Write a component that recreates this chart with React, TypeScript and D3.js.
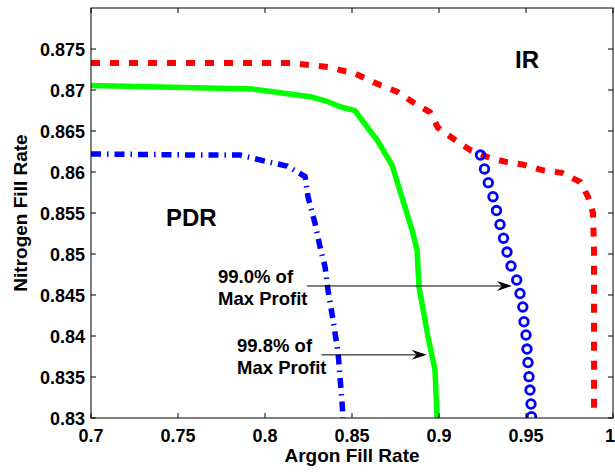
import React from "react";
import * as d3 from "d3";

const xTicks = [0.7, 0.75, 0.8, 0.85, 0.9, 0.95, 1];
const yTicks = [0.83, 0.835, 0.84, 0.845, 0.85, 0.855, 0.86, 0.865, 0.87, 0.875];

// IR curve (red dashed)
const irArgon = [0.7, 0.8144, 0.8362, 0.8517, 0.8661, 0.8759, 0.8851, 0.8948, 0.8994, 0.9092, 0.9178, 0.9293, 0.9391, 0.9483, 0.9598, 0.9707, 0.981, 0.9856, 0.9885, 0.9891, 0.9891];
const irNitrogen = [0.8733, 0.8733, 0.8728, 0.872, 0.8706, 0.8698, 0.8685, 0.8673, 0.8654, 0.8639, 0.8627, 0.8617, 0.8612, 0.8609, 0.8602, 0.8599, 0.8588, 0.857, 0.855, 0.8505, 0.8304];

// 99.8% of max profit (green solid)
const greenArgon = [0.7, 0.7931, 0.8086, 0.8259, 0.8362, 0.8431, 0.8517, 0.8586, 0.8644, 0.873, 0.8845, 0.8874, 0.8885, 0.8937, 0.8977, 0.8989];
const greenNitrogen = [0.87055, 0.87012, 0.86967, 0.86918, 0.86857, 0.86796, 0.86748, 0.86552, 0.8639, 0.86085, 0.85293, 0.85049, 0.84598, 0.83988, 0.83585, 0.83];

// PDR curve (blue dash-dot)
const pdrArgon = [0.7, 0.7626, 0.7856, 0.7989, 0.8126, 0.823, 0.8247, 0.8287, 0.8316, 0.8345, 0.8362, 0.8391, 0.842, 0.8443, 0.8448];
const pdrNitrogen = [0.8622, 0.86207, 0.86207, 0.86138, 0.86073, 0.85945, 0.85699, 0.85378, 0.85089, 0.84845, 0.84561, 0.84195, 0.83793, 0.83183, 0.83];

// 99.0% of max profit (blue circles)
const circArgon = [0.92385, 0.92615, 0.92833, 0.93103, 0.93305, 0.93506, 0.93707, 0.93908, 0.94138, 0.94466, 0.94655, 0.94816, 0.94885, 0.95, 0.95057, 0.95115, 0.95172, 0.9523, 0.95287, 0.95316];
const circNitrogen = [0.86207, 0.86037, 0.8587, 0.85699, 0.8553, 0.8536, 0.85192, 0.85024, 0.84854, 0.84683, 0.84518, 0.84354, 0.84174, 0.84012, 0.83841, 0.83677, 0.83504, 0.83341, 0.83171, 0.83016];

const W = 615, H = 472;
const L = 91, R = 613, T = 8, B = 418;
const FONT = "'Liberation Sans', Arial, Helvetica, sans-serif";

const fmt = (v: number) => String(+v.toFixed(3));

export default function App() {
  const x = d3.scaleLinear().domain([0.7, 1]).range([L, R]);
  const y = d3.scaleLinear().domain([0.83, 0.88]).range([B, T]);
  const line = d3.line<[number, number]>().x(d => x(d[0])).y(d => y(d[1]));
  const zip = (a: number[], b: number[]) => a.map((v, i) => [v, b[i]] as [number, number]);

  const arrow = (x0: number, x1: number, yy: number) => {
    const px0 = x(x0), px1 = x(x1), py = y(yy);
    const head = `M${px1},${py} L${px1 - 15},${py - 5} L${px1 - 10},${py} L${px1 - 15},${py + 5} Z`;
    return (
      <g>
        <line x1={px0} x2={px1 - 8} y1={py} y2={py} stroke="#000" strokeWidth={1} />
        <path d={head} fill="#000" />
      </g>
    );
  };

  return (
    <svg width={W} height={H} style={{ position: "absolute", left: 0, top: 0, background: "#fff" }} fontFamily={FONT}>
      <defs>
        <clipPath id="plot">
          <rect x={L} y={T} width={R - L} height={B - T} />
        </clipPath>
      </defs>
      <rect x={0} y={0} width={W} height={H} fill="#fff" />
      <g clipPath="url(#plot)">
        <path d={line(zip(irArgon, irNitrogen)) || ""} fill="none" stroke="#ff0000" strokeWidth={6} strokeDasharray="9,10" />
        <path d={line(zip(greenArgon, greenNitrogen)) || ""} fill="none" stroke="#00ff00" strokeWidth={5.5} strokeLinejoin="round" />
        <path d={line(zip(pdrArgon, pdrNitrogen)) || ""} fill="none" stroke="#0000ff" strokeWidth={5.5} strokeDasharray="10,6,1.5,6" />
        {circArgon.map((v, i) => (
          <circle key={i} cx={x(v)} cy={y(circNitrogen[i])} r={4.3} fill="none" stroke="#0000ff" strokeWidth={2.8} />
        ))}
      </g>
      {/* axes box */}
      <rect x={L} y={T} width={R - L} height={B - T} fill="none" stroke="#000" strokeWidth={1} />
      {xTicks.map((v, i) => (
        <g key={"x" + i}>
          <line x1={x(v)} x2={x(v)} y1={B} y2={B - 5} stroke="#000" />
          <line x1={x(v)} x2={x(v)} y1={T} y2={T + 5} stroke="#000" />
          <text x={i === xTicks.length - 1 ? x(v) - 3 : x(v)} y={442} textAnchor="middle" fontSize={18} fontWeight="bold">{fmt(v)}</text>
        </g>
      ))}
      {yTicks.map((v, i) => (
        <g key={"y" + i}>
          <line x1={L} x2={L + 5} y1={y(v)} y2={y(v)} stroke="#000" />
          <line x1={R} x2={R - 5} y1={y(v)} y2={y(v)} stroke="#000" />
          <text x={85} y={y(v) + 6.5} textAnchor="end" fontSize={18} fontWeight="bold">{fmt(v)}</text>
        </g>
      ))}
      <text x={352} y={462} textAnchor="middle" fontSize={19} fontWeight="bold">Argon Fill Rate</text>
      <text transform={`translate(27,${(T + B) / 2}) rotate(-90)`} textAnchor="middle" fontSize={19} fontWeight="bold">Nitrogen Fill Rate</text>

      <text x={166} y={226} fontSize={24} fontWeight="bold">PDR</text>
      <text x={515} y={68} fontSize={24} fontWeight="bold">IR</text>

      <text x={218} y={283} fontSize={18.5} fontWeight="bold">99.0% of</text>
      <text x={218} y={305} fontSize={18.5} fontWeight="bold">Max Profit</text>
      {arrow(0.8241, 0.9419, 0.8461)}

      <text x={237} y={352} fontSize={18.5} fontWeight="bold">99.8% of</text>
      <text x={237} y={374} fontSize={18.5} fontWeight="bold">Max Profit</text>
      {arrow(0.8324, 0.8929, 0.8377)}
    </svg>
  );
}
